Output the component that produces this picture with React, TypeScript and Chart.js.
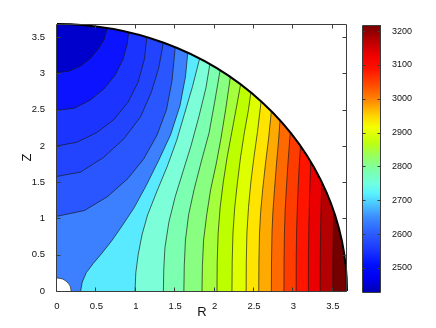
import React, { useEffect, useRef } from 'react';
import { Chart, registerables } from 'chart.js';

Chart.register(...registerables);
Chart.defaults.font.family = "'Liberation Sans', Arial, Helvetica, sans-serif";

// ---------------- data ----------------
const AXIS_MAX = 3.68;
const DOMAIN_R = 3.68; // outer boundary radius
const HOLE_R = 0.18; // inner boundary radius
const X_TICKS = [0, 0.5, 1, 1.5, 2, 2.5, 3, 3.5];
const Y_TICKS = [0, 0.5, 1, 1.5, 2, 2.5, 3, 3.5];
const CB_MIN = 2429;
const CB_MAX = 3218;
const CB_TICKS = [2500, 2600, 2700, 2800, 2900, 3000, 3100, 3200];
const CB_STOPS = [2429, 2470, 2510, 2560, 2610, 2650, 2690, 2720, 2750, 2790, 2830, 2870, 2915, 2950, 2990, 3040, 3090, 3130, 3175, 3218];
const CB_COLORS = ['#0000B4', '#0000F0', '#0010FF', '#1E3CFF', '#2E64FF', '#3C8CFF', '#4AC8FF', '#58F2FF', '#70FFE0', '#7CFFA8', '#96FF60', '#BEFF10', '#F4FF00', '#FFD400', '#FF9000', '#FF4C00', '#FF1000', '#EE0000', '#B40000', '#740000'];

// fill colour of each band, coldest first
const BAND_COLORS = ['#0000CD', '#0C14FF', '#1C34FF', '#2244FF', '#2A56FF', '#3C80FF', '#5AEAFF', '#7CFFD8', '#7CFFB0', '#88FF80', '#A4FF3C', '#BEFF00', '#DEFF00', '#FFE400', '#FFAA00', '#FF6A00', '#FF3C00', '#FF1400', '#EA0000', '#B40000', '#740000'];

// contour lines, [R, Z] points, coldest first
const C01 = [[0, 3.01], [0.15, 3.03], [0.3, 3.1], [0.42, 3.2], [0.52, 3.33], [0.6, 3.47], [0.64, 3.624]];
const C02 = [[0, 2.49], [0.22, 2.52], [0.42, 2.63], [0.6, 2.79], [0.74, 2.98], [0.84, 3.2], [0.89, 3.4], [0.91, 3.566]];
const C03 = [[0, 2.0], [0.25, 2.05], [0.5, 2.18], [0.72, 2.36], [0.9, 2.6], [1.03, 2.88], [1.11, 3.2], [1.14, 3.499]];
const C04 = [[0, 1.58], [0.3, 1.64], [0.59, 1.84], [0.85, 2.1], [1.06, 2.4], [1.2, 2.75], [1.29, 3.07], [1.35, 3.423]];
const C05 = [[0, 1.03], [0.35, 1.11], [0.64, 1.3], [0.9, 1.55], [1.1, 1.82], [1.27, 2.15], [1.39, 2.5], [1.46, 2.9], [1.5, 3.36]];
const C06 = [[0.3, 0], [0.32, 0.12], [0.37, 0.25], [0.46, 0.38], [0.57, 0.52], [0.7, 0.7], [0.84, 0.92], [0.98, 1.15], [1.13, 1.45], [1.29, 1.8], [1.44, 2.15], [1.56, 2.55], [1.63, 2.95], [1.66, 3.284]];
const C07 = [[0.99, 0], [1.0, 0.25], [1.03, 0.5], [1.08, 0.78], [1.15, 1.05], [1.27, 1.38], [1.4, 1.72], [1.52, 2.08], [1.62, 2.45], [1.72, 2.82], [1.81, 3.204]];
const C08 = [[1.35, 0], [1.355, 0.3], [1.37, 0.6], [1.42, 0.95], [1.5, 1.3], [1.6, 1.65], [1.7, 2.0], [1.8, 2.4], [1.89, 2.8], [1.94, 3.127]];
const C09 = [[1.61, 0], [1.615, 0.35], [1.63, 0.7], [1.67, 1.05], [1.74, 1.4], [1.83, 1.78], [1.93, 2.18], [2.0, 2.6], [2.07, 3.043]];
const C10 = [[1.84, 0], [1.845, 0.35], [1.86, 0.7], [1.9, 1.05], [1.95, 1.4], [2.02, 1.75], [2.08, 2.1], [2.14, 2.5], [2.2, 2.95]];
const C11 = [[2.03, 0], [2.033, 0.4], [2.045, 0.8], [2.07, 1.15], [2.11, 1.5], [2.16, 1.85], [2.22, 2.2], [2.28, 2.55], [2.33, 2.848]];
const C12 = [[2.22, 0], [2.223, 0.4], [2.233, 0.8], [2.255, 1.15], [2.29, 1.5], [2.33, 1.85], [2.38, 2.2], [2.43, 2.5], [2.46, 2.737]];
const C13 = [[2.4, 0], [2.402, 0.4], [2.41, 0.8], [2.43, 1.15], [2.46, 1.5], [2.5, 1.85], [2.545, 2.2], [2.59, 2.614]];
const C14 = [[2.56, 0], [2.562, 0.4], [2.57, 0.8], [2.585, 1.1], [2.61, 1.4], [2.645, 1.75], [2.685, 2.1], [2.72, 2.479]];
const C15 = [[2.72, 0], [2.722, 0.4], [2.728, 0.8], [2.74, 1.1], [2.76, 1.4], [2.785, 1.75], [2.81, 2.05], [2.83, 2.352]];
const C16 = [[2.88, 0], [2.881, 0.4], [2.886, 0.8], [2.895, 1.1], [2.91, 1.4], [2.93, 1.75], [2.96, 2.187]];
const C17 = [[3.035, 0], [3.036, 0.5], [3.042, 0.9], [3.055, 1.3], [3.07, 1.65], [3.09, 1.999]];
const C18 = [[3.19, 0], [3.191, 0.5], [3.196, 0.9], [3.205, 1.3], [3.22, 1.782]];
const C19 = [[3.34, 0], [3.341, 0.5], [3.348, 1.0], [3.36, 1.501]];
const C20 = [[3.5, 0], [3.502, 0.5], [3.51, 1.106]];

const CONTOURS = [C01, C02, C03, C04, C05, C06, C07, C08, C09, C10, C11, C12, C13, C14, C15, C16, C17, C18, C19, C20];

// ---------------- styling ----------------
const LINE_COLOR = 'rgba(25,25,25,0.85)';
const AXIS_COLOR = '#3c3c3c';
const TICK_FONT = { size: 9.5 };
const SOLID = [4000, 0]; // solid dash pattern (keeps exact polyline path)

const FAR = AXIS_MAX * 6;

// polygon covering the hotter side of a contour (clipped to the domain later)
function hotSide(pts: number[][]) {
  const first = pts[0];
  const last = pts[pts.length - 1];
  const out = pts.map(([x, y]) => ({ x, y }));
  out.push({ x: last[0] * 1.6, y: last[1] * 1.6 });
  out.push({ x: FAR, y: FAR });
  out.push({ x: FAR, y: -FAR });
  if (first[0] === 0) {
    out.push({ x: -FAR, y: -FAR });
    out.push({ x: -FAR, y: first[1] });
  } else {
    out.push({ x: first[0], y: -FAR });
  }
  return out;
}

function geom(chart: any) {
  const x = chart.scales.x;
  const y = chart.scales.y;
  const cx = x.getPixelForValue(0);
  const cy = y.getPixelForValue(0);
  return {
    cx,
    cy,
    rx: x.getPixelForValue(DOMAIN_R) - cx,
    ry: cy - y.getPixelForValue(DOMAIN_R),
    hx: x.getPixelForValue(HOLE_R) - cx,
    hy: cy - y.getPixelForValue(HOLE_R),
  };
}

const domainPlugin = {
  id: 'domain',
  beforeDatasetsDraw(chart: any) {
    const ctx = chart.ctx;
    const g = geom(chart);
    ctx.save();
    ctx.beginPath();
    ctx.moveTo(g.cx, g.cy);
    ctx.ellipse(g.cx, g.cy, g.rx, g.ry, 0, -Math.PI / 2, 0);
    ctx.closePath();
    ctx.clip();
    ctx.fillStyle = BAND_COLORS[0];
    ctx.fill();
  },
  afterDatasetsDraw(chart: any) {
    const ctx = chart.ctx;
    ctx.restore();
    const g = geom(chart);
    // inner hole
    ctx.save();
    ctx.beginPath();
    ctx.moveTo(g.cx, g.cy);
    ctx.ellipse(g.cx, g.cy, g.hx, g.hy, 0, -Math.PI / 2, 0);
    ctx.closePath();
    ctx.fillStyle = '#ffffff';
    ctx.fill();
    ctx.beginPath();
    ctx.ellipse(g.cx, g.cy, g.hx, g.hy, 0, -Math.PI / 2, 0);
    ctx.strokeStyle = LINE_COLOR;
    ctx.lineWidth = 0.8;
    ctx.stroke();
    // outer boundary
    ctx.beginPath();
    ctx.ellipse(g.cx, g.cy, g.rx, g.ry, 0, -Math.PI / 2, 0);
    ctx.strokeStyle = '#000';
    ctx.lineWidth = 2;
    ctx.stroke();
    ctx.restore();
  },
  afterDraw(chart: any) {
    const ctx = chart.ctx;
    const { left, right, top, bottom } = chart.chartArea;
    const x = chart.scales.x;
    const y = chart.scales.y;
    ctx.save();
    ctx.strokeStyle = AXIS_COLOR;
    ctx.lineWidth = 1;
    ctx.beginPath();
    ctx.rect(left - 0.5, top + 0.5, right - left, bottom - top);
    const tl = 4;
    X_TICKS.forEach((v) => {
      const px = Math.round(x.getPixelForValue(v)) - 0.5;
      ctx.moveTo(px, bottom + 0.5);
      ctx.lineTo(px, bottom + 0.5 - tl);
      ctx.moveTo(px, top + 0.5);
      ctx.lineTo(px, top + 0.5 + tl);
    });
    Y_TICKS.forEach((v) => {
      const py = Math.round(y.getPixelForValue(v)) + 0.5;
      ctx.moveTo(left - 0.5, py);
      ctx.lineTo(left - 0.5 + tl, py);
      ctx.moveTo(right - 0.5, py);
      ctx.lineTo(right - 0.5 - tl, py);
    });
    ctx.stroke();
    ctx.restore();
  },
};

const colorbarPlugin = {
  id: 'cbframe',
  afterDraw(chart: any) {
    const ctx = chart.ctx;
    const { left, right, top, bottom } = chart.chartArea;
    const y = chart.scales.y;
    ctx.save();
    ctx.strokeStyle = AXIS_COLOR;
    ctx.lineWidth = 1;
    ctx.beginPath();
    ctx.rect(left - 0.5, top + 0.5, right - left, bottom - top);
    const tl = 3;
    CB_TICKS.forEach((v) => {
      const py = Math.round(y.getPixelForValue(v)) + 0.5;
      ctx.moveTo(left - 0.5, py);
      ctx.lineTo(left - 0.5 + tl, py);
      ctx.moveTo(right - 0.5, py);
      ctx.lineTo(right - 0.5 - tl, py);
    });
    ctx.stroke();
    ctx.restore();
  },
};

function mainConfig(): any {
  const fills = CONTOURS.map((c, i) => ({
    data: hotSide(c),
    showLine: true,
    fill: 'shape',
    backgroundColor: BAND_COLORS[i + 1],
    borderColor: 'rgba(0,0,0,0)',
    borderWidth: 1,
    borderDash: SOLID,
    pointRadius: 0,
    tension: 0,
    order: 100 - i,
  }));
  const lines = CONTOURS.map((c) => ({
    data: c.map(([x, y]) => ({ x, y })),
    showLine: true,
    fill: false,
    borderColor: LINE_COLOR,
    borderWidth: 0.8,
    borderDash: SOLID,
    pointRadius: 0,
    tension: 0,
    order: 0,
  }));
  return {
    type: 'scatter',
    data: { datasets: [...fills, ...lines] },
    options: {
      responsive: false,
      animation: false,
      events: [],
      layout: { padding: { left: 0, top: 24, right: 13, bottom: 0 } },
      plugins: { legend: { display: false }, tooltip: { enabled: false } },
      scales: {
        x: {
          type: 'linear',
          min: 0,
          max: AXIS_MAX,
          grid: { display: false },
          border: { display: false },
          afterBuildTicks: (s: any) => {
            s.ticks = X_TICKS.map((v) => ({ value: v }));
          },
          afterFit: (s: any) => {
            s.height = 37;
          },
          ticks: {
            autoSkip: false,
            maxRotation: 0,
            padding: 2,
            color: '#111',
            font: TICK_FONT,
            callback: (v: any) => String(+v),
          },
          title: { display: true, text: 'R', color: '#111', font: { size: 13 }, padding: { top: 0, bottom: 8 } },
        },
        y: {
          type: 'linear',
          min: 0,
          max: AXIS_MAX,
          grid: { display: false },
          border: { display: false },
          afterBuildTicks: (s: any) => {
            s.ticks = Y_TICKS.map((v) => ({ value: v }));
          },
          afterFit: (s: any) => {
            s.width = 57;
          },
          ticks: {
            autoSkip: false,
            padding: 4,
            color: '#111',
            font: TICK_FONT,
            callback: (v: any) => String(+v),
          },
          title: { display: true, text: 'Z', color: '#111', font: { size: 13 }, padding: { top: 20, bottom: 0 } },
        },
      },
    },
    plugins: [domainPlugin],
  };
}

function cbConfig(): any {
  return {
    type: 'bar',
    data: {
      labels: [''],
      datasets: [
        {
          data: [[CB_MIN, CB_MAX]],
          barPercentage: 1,
          categoryPercentage: 1,
          borderWidth: 0,
          backgroundColor: (c: any) => {
            const chart = c.chart;
            const ys = chart.scales.y;
            if (!ys || !chart.chartArea) return CB_COLORS[0];
            const g = chart.ctx.createLinearGradient(0, ys.getPixelForValue(CB_MIN), 0, ys.getPixelForValue(CB_MAX));
            CB_STOPS.forEach((v, i) => g.addColorStop((v - CB_MIN) / (CB_MAX - CB_MIN), CB_COLORS[i]));
            return g;
          },
        },
      ],
    },
    options: {
      responsive: false,
      animation: false,
      events: [],
      layout: { padding: { left: 23, top: 25, right: 0, bottom: 36 } },
      plugins: { legend: { display: false }, tooltip: { enabled: false } },
      scales: {
        x: { display: false },
        y: {
          position: 'right',
          min: CB_MIN,
          max: CB_MAX,
          grid: { display: false },
          border: { display: false },
          afterBuildTicks: (s: any) => {
            s.ticks = CB_TICKS.map((v) => ({ value: v }));
          },
          afterFit: (s: any) => {
            s.width = 55;
          },
          ticks: {
            autoSkip: false,
            padding: 3,
            color: '#111',
            font: { size: 9 },
            callback: (v: any) => String(v),
          },
        },
      },
    },
    plugins: [colorbarPlugin],
  };
}

export default function App() {
  const mainRef = useRef<HTMLCanvasElement | null>(null);
  const cbRef = useRef<HTMLCanvasElement | null>(null);
  useEffect(() => {
    const main = new Chart(mainRef.current as HTMLCanvasElement, mainConfig());
    const cb = new Chart(cbRef.current as HTMLCanvasElement, cbConfig());
    return () => {
      main.destroy();
      cb.destroy();
    };
  }, []);
  return (
    <div style={{ position: 'absolute', left: 0, top: 0, width: 436, height: 328, background: '#fff', overflow: 'hidden' }}>
      <canvas ref={mainRef} width={360} height={328} style={{ position: 'absolute', left: 0, top: 0, width: 360, height: 328 }} />
      <canvas ref={cbRef} width={96} height={328} style={{ position: 'absolute', left: 340, top: 0, width: 96, height: 328 }} />
    </div>
  );
}
